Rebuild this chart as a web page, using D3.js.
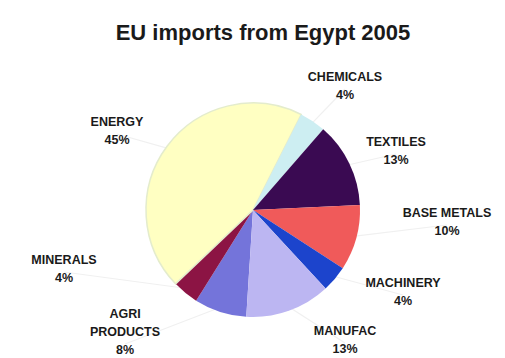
<!DOCTYPE html>
<html>
<head>
<meta charset="utf-8">
<script src="https://cdn.jsdelivr.net/npm/d3@7"></script>
<style>
  body { margin: 0; background: #fff; }
  svg text { font-family: "Liberation Sans", Arial, sans-serif; font-weight: bold; fill: #1a1a1a; }
</style>
</head>
<body>
<svg id="chart" width="505" height="358"></svg>
<script>
// slice order follows the sheet (clockwise from the bottom)
var sectors = ["AGRI PRODUCTS", "MINERALS", "ENERGY", "CHEMICALS", "TEXTILES", "BASE METALS", "MACHINERY", "MANUFAC"];
var shares  = [8, 4, 45, 4, 13, 10, 4, 13];
var pctLabels = ["8%", "4%", "45%", "4%", "13%", "10%", "4%", "13%"];
var colours = ["#7474da", "#8c1444", "#ffffc2", "#cdeef2", "#3a0a52", "#f05a5a", "#1c44cc", "#bcb6f2"];

// label text lines and where they sit
var labelLines = [["AGRI", "PRODUCTS"], ["MINERALS"], ["ENERGY"], ["CHEMICALS"], ["TEXTILES"], ["BASE METALS"], ["MACHINERY"], ["MANUFAC"]];
var labelPos = [[125, 314], [64, 260], [117, 122], [345, 77], [396, 142], [447, 213], [403, 283], [345, 331]];

var svg = d3.select("#chart");
var cx = 253, cy = 210, r = 107;

svg.append("text")
  .attr("x", 263).attr("y", 40)
  .attr("text-anchor", "middle")
  .style("font-size", "22px")
  .text("EU imports from Egypt 2005");

var pie = d3.pie().sort(null).value(function(d) { return d; })
  .startAngle(183.6 * Math.PI / 180)
  .endAngle(183.6 * Math.PI / 180 + 2 * Math.PI);

var arc = d3.arc().innerRadius(0).outerRadius(r);
var arcs = pie(shares);

var g = svg.append("g").attr("transform", "translate(" + cx + "," + cy + ")");

// faint leader lines
var outer = d3.arc().innerRadius(r * 0.95).outerRadius(r * 0.95);
g.selectAll("line.leader")
  .data(arcs)
  .enter()
  .append("line")
    .attr("x1", function(d) { return outer.centroid(d)[0]; })
    .attr("y1", function(d) { return outer.centroid(d)[1]; })
    .attr("x2", function(d, i) { return labelPos[i][0] - cx; })
    .attr("y2", function(d, i) { return labelPos[i][1] - cy + (labelLines[i].length * 18) - 6; })
    .attr("stroke", "#f0f0f0")
    .attr("stroke-width", 1.2);

g.selectAll("path")
  .data(arcs)
  .enter()
  .append("path")
    .attr("d", arc)
    .attr("fill", function(d, i) { return colours[i]; })
    .attr("stroke", function(d, i) { return i == 2 ? "#e4eccc" : "none"; })
    .attr("stroke-width", 1.5);

// labels: name lines then percent
var labels = svg.selectAll("g.lab")
  .data(arcs)
  .enter()
  .append("g")
    .attr("transform", function(d, i) { return "translate(" + labelPos[i][0] + "," + labelPos[i][1] + ")"; });

labels.each(function(d, i) {
  var sel = d3.select(this);
  var lines = labelLines[i].concat([pctLabels[i]]);
  lines.forEach(function(t, k) {
    sel.append("text")
      .attr("y", k * 18 + 4)
      .attr("text-anchor", "middle")
      .style("font-size", "12.5px")
      .text(t);
  });
});
</script>
</body>
</html>
